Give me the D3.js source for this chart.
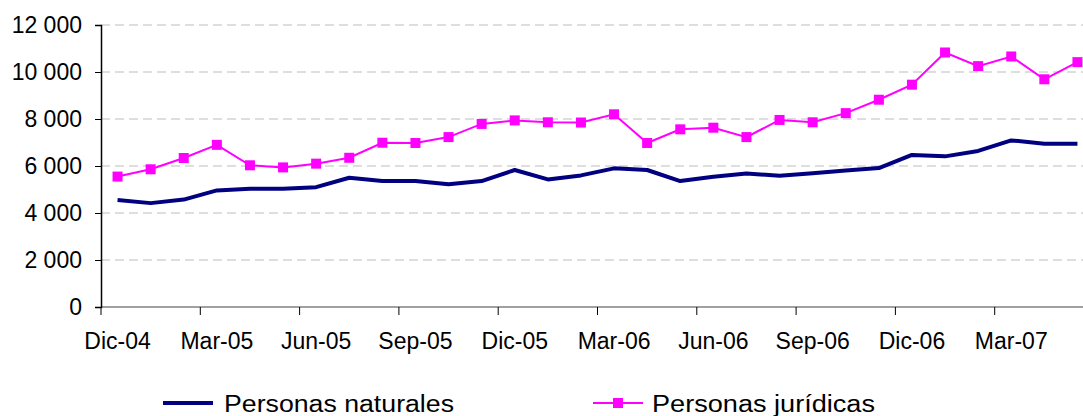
<!doctype html>
<html>
    <head>
        <script src="https://d3js.org/d3.v7.min.js"></script>
        <style>
            body { margin: 0; background: #fff; }
            text {
                font-family: 'Liberation Sans', Arial, sans-serif;
                font-size: 23px;
                fill: #000;
            }
        </style>
    </head>
    <body>
        <svg height="416" id="chart" width="1083"></svg>
        <script>
            const months = ["Dic-04", "Ene-05", "Feb-05", "Mar-05", "Abr-05", "May-05", "Jun-05", "Jul-05",
                "Ago-05", "Sep-05", "Oct-05", "Nov-05", "Dic-05", "Ene-06", "Feb-06", "Mar-06", "Abr-06",
                "May-06", "Jun-06", "Jul-06", "Ago-06", "Sep-06", "Oct-06", "Nov-06", "Dic-06", "Ene-07",
                "Feb-07", "Mar-07", "Abr-07", "May-07"];
            const naturales = [4550, 4420, 4570, 4960, 5030, 5030, 5100, 5500, 5360, 5360,
                5220, 5360, 5830, 5430, 5600, 5900, 5830, 5360, 5540, 5680,
                5590, 5690, 5810, 5910, 6470, 6410, 6640, 7090, 6950, 6950];
            const juridicas = [5550, 5860, 6340, 6900, 6030, 5940, 6100, 6350, 6990, 6980,
                7230, 7790, 7940, 7860, 7850, 8200, 6980, 7560, 7630, 7230,
                7960, 7860, 8250, 8820, 9460, 10830, 10250, 10660, 9690, 10420];
            const yTicks = [0, 2000, 4000, 6000, 8000, 10000, 12000];
            const labelMonths = months.filter((m, i) => i % 3 === 0);

            const chart = d3.select("#chart");
            const plotLeft = 101, plotTop = 25, plotBottom = 307;
            const step = 33.1;

            const x = d3.scaleBand().domain(months).range([plotLeft, plotLeft + months.length * step]);
            const y = d3.scaleLinear().domain([0, 12000]).range([plotBottom, plotTop]);

            // dashed gridlines
            chart.append("g")
                .selectAll("line")
                .data(yTicks.filter(d => d > 0))
                .enter()
                .append("line")
                .attr("x1", plotLeft)
                .attr("x2", 1083)
                .attr("y1", d => y(d))
                .attr("y2", d => y(d))
                .attr("stroke", "#bdbdbd")
                .attr("stroke-width", 1)
                .attr("stroke-dasharray", "9,5");

            // x axis: labels at category centres, tick marks at boundaries
            const xAxis = d3.axisBottom(x).tickValues(labelMonths).tickSize(0).tickPadding(26);
            const gx = chart.append("g").attr("transform", "translate(0," + plotBottom + ")").call(xAxis);
            gx.select(".domain").remove();
            gx.selectAll("text").style("font-size", "23px").style("font-family", "'Liberation Sans', Arial, sans-serif");

            chart.append("line")
                .attr("x1", plotLeft).attr("x2", 1083)
                .attr("y1", plotBottom).attr("y2", plotBottom)
                .attr("stroke", "#808080").attr("stroke-width", 1.5);

            chart.append("g")
                .selectAll("line")
                .data(labelMonths)
                .enter()
                .append("line")
                .attr("x1", d => x(d))
                .attr("x2", d => x(d))
                .attr("y1", plotBottom)
                .attr("y2", plotBottom + 8)
                .attr("stroke", "#000")
                .attr("stroke-width", 1);

            // y axis
            const fmt = d => d3.format(",")(d).replace(/,/g, " ");
            const yAxis = d3.axisLeft(y).tickValues(yTicks).tickFormat(fmt).tickSize(6).tickPadding(13);
            const gy = chart.append("g").attr("transform", "translate(" + plotLeft + ",0)").call(yAxis);
            gy.select(".domain").attr("stroke", "#000").attr("stroke-width", 1.5);
            gy.selectAll("text").style("font-size", "23px").style("font-family", "'Liberation Sans', Arial, sans-serif");

            const cx = d => x(d) + x.bandwidth() / 2;

            // series lines
            chart.append("path")
                .datum(months.map((m, i) => [m, naturales[i]]))
                .attr("fill", "none")
                .attr("stroke", "#000080")
                .attr("stroke-width", 4)
                .attr("stroke-linejoin", "round")
                .attr("d", d3.line().x(d => cx(d[0])).y(d => y(d[1])));

            chart.append("path")
                .datum(months.map((m, i) => [m, juridicas[i]]))
                .attr("fill", "none")
                .attr("stroke", "#ff00ff")
                .attr("stroke-width", 2)
                .attr("d", d3.line().x(d => cx(d[0])).y(d => y(d[1])));

            const ms = 10;
            chart.append("g")
                .selectAll("rect")
                .data(months.map((m, i) => [m, juridicas[i]]))
                .enter()
                .append("rect")
                .attr("x", d => cx(d[0]) - ms / 2)
                .attr("y", d => y(d[1]) - ms / 2)
                .attr("width", ms)
                .attr("height", ms)
                .attr("fill", "#ff00ff");

            // legend
            const legendY = 403;
            chart.append("line")
                .attr("x1", 163).attr("x2", 213)
                .attr("y1", legendY).attr("y2", legendY)
                .attr("stroke", "#000080").attr("stroke-width", 4);
            chart.append("text")
                .attr("x", 224).attr("y", 411.5)
                .attr("textLength", 230).attr("lengthAdjust", "spacingAndGlyphs")
                .text("Personas naturales");

            chart.append("line")
                .attr("x1", 593).attr("x2", 643)
                .attr("y1", legendY).attr("y2", legendY)
                .attr("stroke", "#ff00ff").attr("stroke-width", 2);
            chart.append("rect")
                .attr("x", 618 - ms / 2).attr("y", legendY - ms / 2)
                .attr("width", ms).attr("height", ms)
                .attr("fill", "#ff00ff");
            chart.append("text")
                .attr("x", 652).attr("y", 411.5)
                .attr("textLength", 223).attr("lengthAdjust", "spacingAndGlyphs")
                .text("Personas jurídicas");
        </script>
    </body>
</html>
